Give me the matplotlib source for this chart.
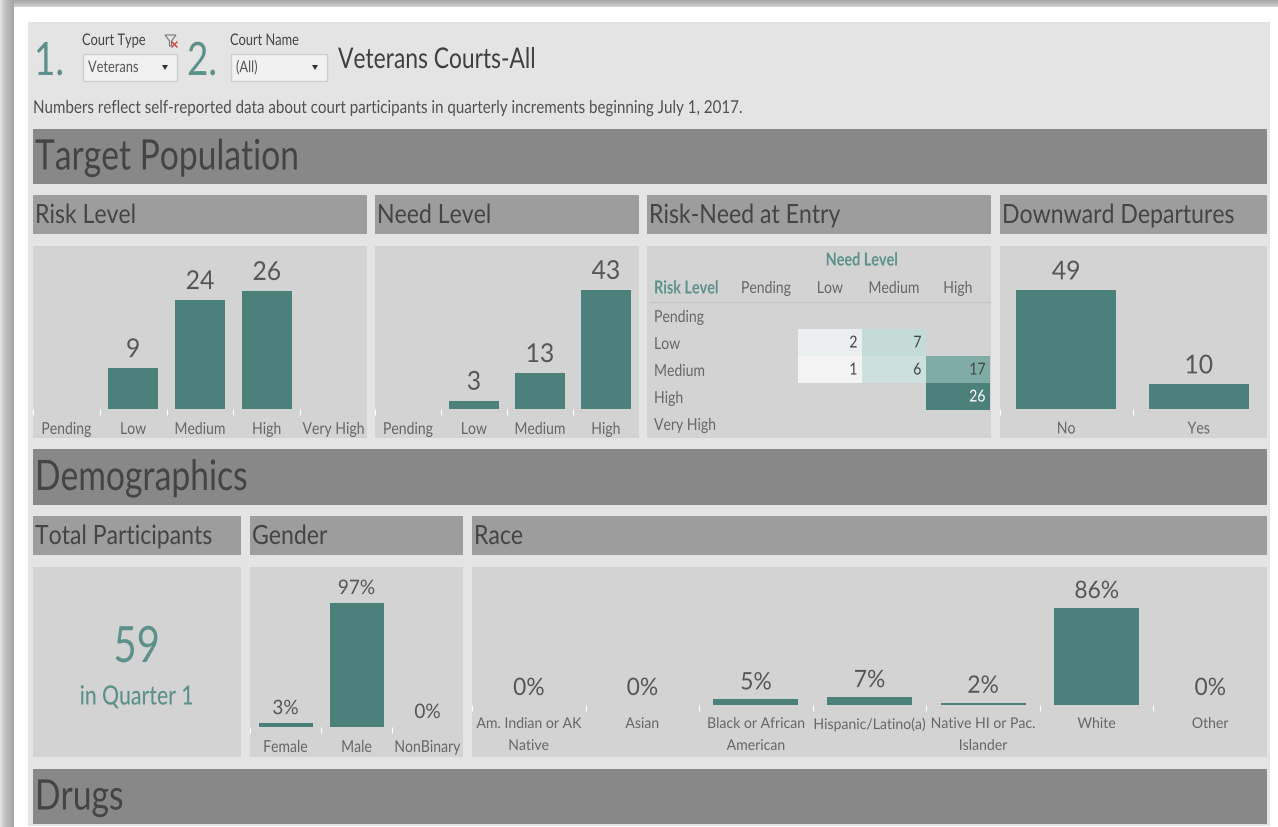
import numpy as np
import matplotlib
matplotlib.use("Agg")
import matplotlib.pyplot as plt
from matplotlib.patches import Rectangle, Polygon
from matplotlib.colors import LinearSegmentedColormap
from matplotlib.ticker import FixedLocator
from matplotlib.patheffects import AbstractPathEffect
from matplotlib.text import Text, Annotation
from matplotlib.transforms import Affine2D

plt.rcParams['font.family'] = ['Lato', 'DejaVu Sans']

risk_cats = ["Pending", "Low", "Medium", "High", "Very High"]
risk_vals = [0, 9, 24, 26, 0]
need_cats = ["Pending", "Low", "Medium", "High"]
need_vals = [0, 3, 13, 43]
matrix_rows = ["Pending", "Low", "Medium", "High", "Very High"]
matrix_cols = ["Pending", "Low", "Medium", "High"]
matrix_vals = [[np.nan, np.nan, np.nan, np.nan],
               [np.nan, 2, 7, np.nan],
               [np.nan, 1, 6, 17],
               [np.nan, np.nan, np.nan, 26],
               [np.nan, np.nan, np.nan, np.nan]]
dep_cats = ["No", "Yes"]
dep_vals = [49, 10]
gender_cats = ["Female", "Male", "NonBinary"]
gender_vals = [3, 97, 0]
race_cats = ["Am. Indian or AK\nNative", "Asian", "Black or African\nAmerican",
             "Hispanic/Latino(a)", "Native HI or Pac.\nIslander", "White", "Other"]
race_vals = [0, 0, 5, 7, 2, 86, 0]
total_participants = 59

W, H = 1278, 828
DY = 1  # vertical layout nudge, pixels
TEAL = "#4c807a"
TEAL_TXT = "#5b918a"
PANEL = "#d3d3d3"
INNER = "#e4e4e4"
SECTION = "#888888"
SUB = "#9d9d9d"
HEAD = "#444444"
TICK = "#666666"
VAL = "#565656"


def pt(px):
    return px * 0.72


class Condense(AbstractPathEffect):
    """Narrow the glyphs of a text horizontally about its alignment point."""

    def __init__(self, sx, align):
        super().__init__()
        self.sx = sx
        self.align = align

    def draw_path(self, renderer, gc, tpath, affine, rgbFace=None):
        m = affine.get_matrix().copy()
        if len(tpath.vertices):
            w = tpath.vertices[:, 0].max() * m[0, 0]
            if self.align == "center":
                m[0, 2] += w / 2 * (1 - self.sx)
            elif self.align == "right":
                m[0, 2] += w * (1 - self.sx)
        m[0, 0] *= self.sx
        renderer.draw_path(gc, tpath, Affine2D(m), rgbFace)


def squeeze(t, sx):
    t.set_path_effects([Condense(sx, t.get_ha())])
    return t


fig = plt.figure(figsize=(W / 100, H / 100), dpi=100, facecolor="white")
bg = fig.add_axes([0, 0, 1, 1])
bg.set_xlim(0, W)
bg.set_ylim(H - DY, -DY)
bg.axis("off")


def rect(x0, y0, x1, y1, color, ax=bg, **kw):
    ax.add_patch(Rectangle((x0, y0), x1 - x0, y1 - y0, facecolor=color,
                           edgecolor="none", **kw))


# window shadow
for i, c in enumerate(["#a0a0a0", "#a8a8a8", "#b0b0b0", "#b8b8b8", "#c0c0c0", "#c8c8c8", "#d0d0d0"]):
    rect(0, i * 1.2 - DY, W, (i + 1) * 1.2 - DY, c)
for i, c in enumerate(["#e0e0e0", "#cfcfcf", "#c2c2c2", "#bababa", "#b4b4b4", "#adadad", "#a6a6a6"]):
    rect(i * 2, -DY, (i + 1) * 2, H, c)
rect(14, 7, W, H, "white")
rect(28, 22, 1270, 826, INNER)


def head(x0, y0, x1, y1, label, color, size, sx):
    rect(x0, y0, x1, y1, color)
    squeeze(bg.text(x0 + 2, (y0 + y1) / 2 + 1, label, fontsize=pt(size), color=HEAD,
                    va="center", ha="left"), sx)


head(33, 129, 1267, 184, "Target Population", SECTION, 42, 0.8)
head(33, 449, 1267, 505, "Demographics", SECTION, 42, 0.8)
head(33, 769, 1267, 824, "Drugs", SECTION, 42, 0.8)
for x0, x1, t in [(33, 367, "Risk Level"), (375, 639, "Need Level"),
                  (647, 991, "Risk-Need at Entry"), (1000, 1267, "Downward Departures")]:
    head(x0, 195, x1, 234, t, SUB, 26.5, 0.87)
for x0, x1, t in [(33, 241, "Total Participants"), (250, 463, "Gender"), (472, 1267, "Race")]:
    head(x0, 516, x1, 555, t, SUB, 26.5, 0.87)
for x0, x1 in [(33, 367), (375, 639), (647, 991), (1000, 1267)]:
    rect(x0, 246, x1, 438, PANEL)
for x0, x1 in [(33, 241), (250, 463), (472, 1267)]:
    rect(x0, 567, x1, 757, PANEL)

# top filter strip
squeeze(bg.text(34, 62, "1.", fontsize=pt(46), color=TEAL_TXT, va="center", ha="left"), 0.8)
squeeze(bg.text(187, 62, "2.", fontsize=pt(46), color=TEAL_TXT, va="center", ha="left"), 0.8)
squeeze(bg.text(82, 41, "Court Type", fontsize=pt(16), color="#444444", va="center"), 0.8)
squeeze(bg.text(230, 41, "Court Name", fontsize=pt(16), color="#444444", va="center"), 0.8)
for x0, x1, t, ax_ in [(83, 177, "Veterans", 165), (231, 327, "(All)", 315)]:
    bg.add_patch(Rectangle((x0, 54), x1 - x0, 27, facecolor="#f1f1f1", edgecolor="#cfcfcf", lw=1))
    squeeze(bg.text(x0 + 5, 68, t, fontsize=pt(16), color="#555555", va="center"), 0.8)
    bg.add_patch(Polygon([(ax_ - 3, 65), (ax_ + 3, 65), (ax_, 70)], facecolor="#333333"))
bg.add_patch(Polygon([(165, 35), (176, 35), (171.5, 41), (171.5, 46), (169.5, 46), (169.5, 41)],
                     facecolor="none", edgecolor="#777777", lw=0.8))
bg.plot([172, 177], [42, 47], color="#c8473f", lw=1)
bg.plot([177, 172], [42, 47], color="#c8473f", lw=1)
squeeze(bg.text(338, 60, "Veterans Courts-All", fontsize=pt(28.5), color="#3f3f3f", va="center"), 0.8)
squeeze(bg.text(33, 108, "Numbers reflect self-reported data about court participants in quarterly increments beginning July 1, 2017.",
                fontsize=pt(17.8), color="#505050", va="center"), 0.85)


def panel_axes(x0, x1, top, base, ymax):
    ax = fig.add_axes([x0 / W, 1 - (base + DY) / H, (x1 - x0) / W, (base - top) / H])
    ax.patch.set_alpha(0)
    for s in ax.spines.values():
        s.set_visible(False)
    ax.set_ylim(0, ymax)
    ax.yaxis.set_visible(False)
    return ax


def bars(x0, x1, top, base, cats, vals, px_per_unit, bar_px, val_size, label_pad, val_pad,
         fmt, tick_size=16.5, tick_sx=0.85, linespacing=1.55):
    ymax = (base - top) / px_per_unit
    ax = panel_axes(x0, x1, top, base, ymax)
    n = len(cats)
    pos = np.arange(n)
    ax.set_xlim(-0.5, n - 0.5)
    step = (x1 - x0) / n
    cont = ax.bar(pos, vals, width=bar_px / step, color=TEAL)
    ax.bar_label(cont, labels=[fmt(v) for v in vals], padding=pt(val_pad),
                 fontsize=pt(val_size), color=VAL)
    ax.set_xticks(pos)
    labels = ax.set_xticklabels(cats, fontsize=pt(tick_size), color=TICK,
                                linespacing=linespacing, va="top")
    for lab in labels:
        squeeze(lab, tick_sx)
    ax.tick_params(axis="x", which="major", length=0, pad=pt(label_pad))
    ax.xaxis.set_minor_locator(FixedLocator(pos - 0.5))
    ax.tick_params(axis="x", which="minor", length=pt(6), width=0.8, color="white",
                   direction="out", pad=0)
    return ax


count_fmt = lambda v: str(v) if v else ""
pct_fmt = lambda v: f"{v}%"

bars(33, 367, 246, 409, risk_cats, risk_vals, 4.54, 50, 26, 12, 6, count_fmt)
bars(375, 639, 246, 409, need_cats, need_vals, 2.77, 50, 26, 12, 6, count_fmt)
bars(1000, 1265, 246, 408.5, dep_cats, dep_vals, 2.41, 100, 26, 12, 6, count_fmt)
bars(250, 463, 567, 727, gender_cats, gender_vals, 1.278, 54, 20, 12, 6, pct_fmt)
bars(472, 1267, 567, 705, race_cats, race_vals, 1.128, 85, 24, 12, 6, pct_fmt,
     tick_size=14.8, tick_sx=0.95, linespacing=1.72)

# matrix
cmap = LinearSegmentedColormap.from_list("rn", ["#f3f3f3", "#b2d3cd", "#7aa9a3", "#4c807a"])
grid = np.ma.masked_invalid(np.array(matrix_vals, dtype=float))
ax = fig.add_axes([734 / W, 1 - (437 + DY) / H, 256 / W, 135 / H])
ax.patch.set_alpha(0)
ax.pcolormesh(np.arange(5), np.arange(6), grid, cmap=cmap, vmin=1, vmax=26)
ax.set_xlim(0, 4)
ax.set_ylim(5, 0)
for s in ax.spines.values():
    s.set_visible(False)
ax.xaxis.tick_top()
ax.set_xticks(np.arange(4) + 0.5)
ax.set_xticklabels(matrix_cols, fontsize=pt(16.5), color=TICK)
ax.set_yticks(np.arange(5) + 0.5)
ax.set_yticklabels(matrix_rows, fontsize=pt(16.5), color=TICK, ha="left")
ax.tick_params(axis="x", length=0, pad=pt(6))
ax.tick_params(axis="y", length=0, pad=pt(80))
for r, row in enumerate(matrix_vals):
    for c, v in enumerate(row):
        if not np.isnan(v):
            ax.text(c + 0.93, r + 0.5, f"{int(v)}", ha="right", va="center",
                    fontsize=pt(16.5), color="white" if v > 20 else "#444444")
bg.plot([650, 990], [302, 302], color="#c6c6c6", lw=1)
squeeze(bg.text(862, 260, "Need Level", fontsize=pt(18), color=TEAL_TXT, fontweight="bold",
                ha="center", va="center"), 0.8)
squeeze(bg.text(654, 288, "Risk Level", fontsize=pt(18), color=TEAL_TXT, fontweight="bold",
                ha="left", va="center"), 0.8)

# KPI
squeeze(bg.text(137, 648, f"{total_participants}", fontsize=pt(50), color=TEAL_TXT,
                ha="center", va="center"), 0.8)
squeeze(bg.text(137, 697, "in Quarter 1", fontsize=pt(26.5), color=TEAL_TXT,
                fontweight="medium", ha="center", va="center"), 0.8)

# remaining texts: bar values and axis labels
for t in fig.findobj(Text):
    if t.get_text() and not t.get_path_effects():
        squeeze(t, 0.95 if isinstance(t, Annotation) else 0.85)

fig.savefig("out.png", dpi=100, facecolor="white")
